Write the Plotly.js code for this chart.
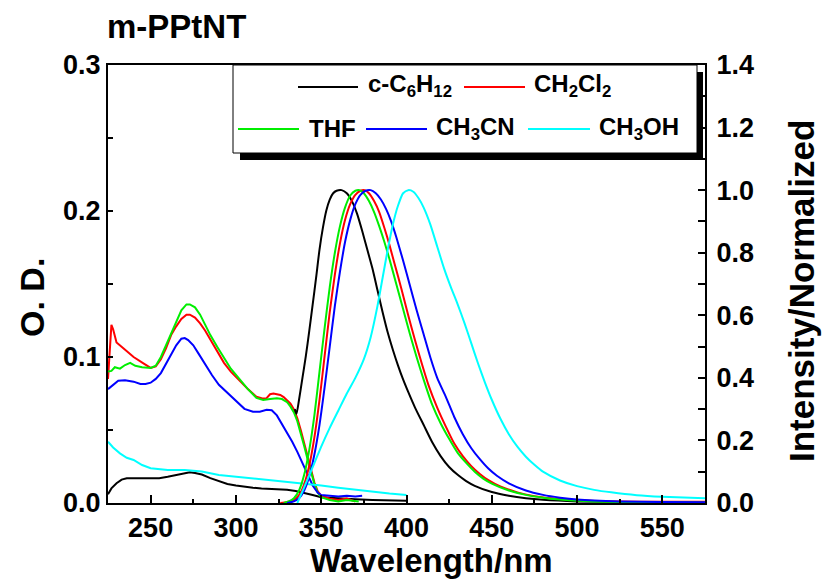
<!DOCTYPE html>
<html>
<head>
<meta charset="utf-8">
<script src="https://cdn.plot.ly/plotly-3.0.1.min.js"></script>
<style>html,body{margin:0;padding:0;background:#fff;}#chart{width:823px;height:585px;}</style>
</head>
<body>
<div id="chart"></div>
<script>
// ---------- DATA ----------
const solventNames = ["c-C<sub>6</sub>H<sub>12</sub>", "CH<sub>2</sub>Cl<sub>2</sub>", "THF", "CH<sub>3</sub>CN", "CH<sub>3</sub>OH"];

// Absorption (left axis, O. D.)
const absWl_C6H12 = [225,227,230,233,236,240,245,250,255,260,265,270,273,276,280,285,290,295,300,305,310,315,320,325,330,335,340,345,350,360,370,380,390,400];
const absOD_C6H12 = [0.006,0.010,0.0135,0.016,0.017,0.017,0.017,0.017,0.017,0.018,0.019,0.0205,0.021,0.0205,0.0195,0.017,0.015,0.013,0.012,0.011,0.0105,0.010,0.0098,0.0095,0.009,0.0082,0.007,0.0055,0.004,0.003,0.0025,0.002,0.0018,0.0015];

const absWl_CH2Cl2 = [225,226,227,228,230,234,240,246,250,253,256,259,262,265,268,271,273,276,279,282,285,289,293,297,302,307,312,316,318,320,322,324,326,328,330,332,334,336,338,340,342,344,346,348,350,355,360,365,370];
const absOD_CH2Cl2 = [0.085,0.105,0.122,0.119,0.110,0.106,0.100,0.0955,0.0925,0.0935,0.0985,0.106,0.115,0.121,0.126,0.129,0.129,0.127,0.123,0.118,0.112,0.104,0.096,0.090,0.084,0.078,0.0728,0.0715,0.0718,0.0745,0.075,0.0745,0.074,0.0725,0.0705,0.068,0.064,0.058,0.050,0.041,0.032,0.023,0.014,0.008,0.005,0.003,0.002,0.003,0.001];

const absWl_THF = [225,227,229,232,235,238,241,245,250,253,256,259,262,265,268,271,273,276,279,282,285,289,293,297,302,307,312,316,320,324,327,330,332,334,336,338,340,342,344,346,348,350,355,360,365,372];
const absOD_THF = [0.090,0.0905,0.093,0.092,0.0945,0.096,0.094,0.093,0.0925,0.094,0.100,0.108,0.117,0.125,0.132,0.136,0.136,0.134,0.129,0.122,0.115,0.107,0.099,0.092,0.085,0.078,0.072,0.0705,0.0712,0.0717,0.0712,0.069,0.066,0.062,0.056,0.048,0.039,0.030,0.021,0.013,0.007,0.004,0.002,0.001,0.002,0.001];

const absWl_CH3CN = [225,228,231,235,240,244,247,250,253,256,259,262,265,268,270,272,275,278,282,286,290,295,300,305,310,314,318,321,324,327,330,333,336,339,342,345,348,350,355,360,365,370,374];
const absOD_CH3CN = [0.078,0.081,0.0838,0.084,0.0831,0.0815,0.0815,0.0824,0.085,0.089,0.095,0.102,0.108,0.1125,0.113,0.1116,0.108,0.1025,0.095,0.0875,0.081,0.0755,0.070,0.0645,0.0625,0.0625,0.0638,0.0635,0.060,0.054,0.049,0.042,0.035,0.027,0.019,0.012,0.007,0.0055,0.005,0.0045,0.005,0.0045,0.005];

const absWl_CH3OH = [225,228,232,236,240,245,250,255,260,270,280,290,300,310,320,330,340,350,360,370,380,390,400];
const absOD_CH3OH = [0.042,0.038,0.034,0.031,0.0295,0.026,0.0238,0.023,0.0226,0.0226,0.0215,0.0192,0.018,0.0168,0.0155,0.0145,0.0135,0.012,0.0105,0.009,0.0075,0.0065,0.0055];

// Emission (right axis, normalized intensity)
const emWl_C6H12 = [334.5,335.5,337,339,341,343,345,347,349,351,353,355,357,359,362,365,368,371,374,377,380,383,386,389,392,395,398,401,405,410,415,420,425,430,435,440,450,460,470,480,500,525,550,575];
const emI_C6H12  = [0.30,0.285,0.33,0.40,0.47,0.55,0.635,0.72,0.81,0.88,0.935,0.97,0.99,0.998,1.0,0.99,0.965,0.925,0.87,0.81,0.75,0.68,0.61,0.545,0.49,0.44,0.395,0.355,0.305,0.25,0.195,0.15,0.115,0.09,0.07,0.055,0.035,0.023,0.015,0.01,0.005,0.003,0.002,0.002];

const emWl_CH2Cl2 = [326,330,334,337,340,343,346,349,352,355,358,361,364,367,370,373,375.5,378,381,384,387,390,393,397,401,405,409,413,418,423,428,433,438,443,448,455,465,475,485,500,525,550,575];
const emI_CH2Cl2  = [0.0,0.003,0.01,0.025,0.06,0.12,0.21,0.33,0.47,0.61,0.73,0.83,0.905,0.955,0.985,0.998,1.0,0.99,0.965,0.93,0.88,0.825,0.765,0.685,0.60,0.52,0.445,0.375,0.305,0.245,0.19,0.15,0.118,0.093,0.073,0.053,0.034,0.022,0.015,0.009,0.005,0.004,0.004];

const emWl_THF = [328,331,334,337,340,343,346,349,352,355,358,361,364,367,370,372.5,375,378,381,384,387,390,394,398,402,406,410,415,420,425,430,435,440,445,450,460,470,480,490,500,525,550,575];
const emI_THF  = [0.0,0.005,0.015,0.04,0.09,0.17,0.28,0.42,0.56,0.69,0.80,0.885,0.945,0.983,0.998,1.0,0.99,0.965,0.93,0.885,0.835,0.78,0.70,0.62,0.54,0.465,0.395,0.315,0.255,0.205,0.16,0.128,0.10,0.078,0.062,0.04,0.026,0.017,0.011,0.007,0.003,0.002,0.001];

const emWl_CH3CN = [330,334,337,340,343,346,349,352,355,358,361,364,367,370,373,376,379,382,385,388,391,394,398,402,406,410,414,418,423,428,433,438,443,448,453,460,470,480,490,500,525,550,575];
const emI_CH3CN  = [0.0,0.005,0.015,0.04,0.085,0.155,0.25,0.37,0.50,0.63,0.74,0.835,0.905,0.955,0.985,0.998,1.0,0.99,0.97,0.94,0.90,0.85,0.775,0.695,0.615,0.54,0.465,0.40,0.34,0.275,0.22,0.175,0.14,0.11,0.087,0.063,0.04,0.026,0.017,0.011,0.005,0.003,0.002];

const emWl_CH3OH = [336,340,345,350,355,360,365,370,375,379,383,386,389,392,395,398,401,404,407,410,414,418,422,426,430,434,438,442,446,450,455,460,465,470,475,480,490,500,510,520,535,550,575];
const emI_CH3OH  = [0.0,0.05,0.115,0.18,0.24,0.295,0.35,0.40,0.46,0.53,0.63,0.72,0.81,0.89,0.95,0.99,1.0,0.995,0.975,0.945,0.89,0.82,0.75,0.69,0.635,0.575,0.51,0.445,0.385,0.33,0.27,0.22,0.18,0.148,0.122,0.10,0.072,0.054,0.042,0.034,0.025,0.02,0.015];

const seriesColors = ["#000000", "#ff0000", "#00ee00", "#0000ff", "#00ffff"];

// ---------- CHART ----------
const absWl = [absWl_C6H12, absWl_CH2Cl2, absWl_THF, absWl_CH3CN, absWl_CH3OH];
const absOD = [absOD_C6H12, absOD_CH2Cl2, absOD_THF, absOD_CH3CN, absOD_CH3OH];
const emWl = [emWl_C6H12, emWl_CH2Cl2, emWl_THF, emWl_CH3CN, emWl_CH3OH];
const emI  = [emI_C6H12, emI_CH2Cl2, emI_THF, emI_CH3CN, emI_CH3OH];

const traces = [];
for (let i = 0; i < 5; i++) {
  traces.push({x: absWl[i], y: absOD[i], type: 'scatter', mode: 'lines', yaxis: 'y',
    line: {color: seriesColors[i], width: 2}, showlegend: false, hoverinfo: 'skip'});
  traces.push({x: emWl[i], y: emI[i], type: 'scatter', mode: 'lines', yaxis: 'y2',
    line: {color: seriesColors[i], width: 2, shape: 'spline', smoothing: 0.6}, showlegend: false, hoverinfo: 'skip'});
}

// plot area pixel frame
const L = 108, R = 705, T = 65, B = 503;
const PX = p => (p - L) / (R - L);
const PY = p => (B - p) / (B - T);

const FONT = 'Liberation Sans, Arial, Helvetica, sans-serif';
const tickFont = {family: FONT, size: 27, color: '#000', weight: 'bold'};

const shapes = [
  // legend shadow
  {type: 'rect', xref: 'paper', yref: 'paper', x0: PX(240), x1: PX(703), y0: PY(160), y1: PY(72),
   fillcolor: '#000', line: {width: 0}, layer: 'above'},
  // legend box
  {type: 'rect', xref: 'paper', yref: 'paper', x0: PX(233), x1: PX(697), y0: PY(153), y1: PY(65),
   fillcolor: '#fff', line: {color: '#000', width: 1}, layer: 'above'}
];
const legendItems = [
  {x0: 298, x1: 358, y: 87, tx: 366},
  {x0: 464, x1: 525, y: 87, tx: 532},
  {x0: 238, x1: 299, y: 129, tx: 307},
  {x0: 366, x1: 427, y: 129, tx: 434},
  {x0: 528, x1: 590, y: 129, tx: 597}
];
const annotations = [];
legendItems.forEach((it, i) => {
  shapes.push({type: 'line', xref: 'paper', yref: 'paper', x0: PX(it.x0), x1: PX(it.x1), y0: PY(it.y), y1: PY(it.y),
    line: {color: seriesColors[i], width: 2}, layer: 'above'});
  annotations.push({xref: 'paper', yref: 'paper', x: PX(it.tx), y: PY(it.y - 1), xanchor: 'left', yanchor: 'middle',
    text: solventNames[i], showarrow: false, font: {family: FONT, size: 24, color: '#000', weight: 'bold'}});
});
annotations.push({xref: 'paper', yref: 'paper', x: PX(105), y: PY(27), xanchor: 'left', yanchor: 'middle',
  text: 'm-PPtNT', showarrow: false, font: {family: FONT, size: 33, color: '#000', weight: 'bold'}});
annotations.push({xref: 'paper', yref: 'paper', x: PX(431), y: PY(560), xanchor: 'center', yanchor: 'middle',
  text: 'Wavelength/nm', showarrow: false, font: {family: FONT, size: 33, color: '#000', weight: 'bold'}});
annotations.push({xref: 'paper', yref: 'paper', x: PX(32), y: PY(298), xanchor: 'center', yanchor: 'middle',
  text: 'O. D.', textangle: -90, showarrow: false, font: {family: FONT, size: 34, color: '#000', weight: 'bold'}});
annotations.push({xref: 'paper', yref: 'paper', x: PX(801), y: PY(291), xanchor: 'center', yanchor: 'middle',
  text: 'Intensity/Normalized', textangle: -90, showarrow: false, font: {family: FONT, size: 35, color: '#000', weight: 'bold'}});

const layout = {
  width: 823, height: 585,
  margin: {l: L, r: 823 - R, t: T, b: 585 - B, pad: 0},
  paper_bgcolor: '#fff', plot_bgcolor: '#fff',
  showlegend: false,
  xaxis: {range: [225, 575], tick0: 0, dtick: 50, showline: true, linecolor: '#000', linewidth: 2, mirror: true,
    ticks: 'inside', ticklen: 8, tickwidth: 2, tickcolor: '#000', tickfont: tickFont,
    showgrid: false, zeroline: false,
    minor: {dtick: 25, ticks: 'inside', ticklen: 4, tickwidth: 2, tickcolor: '#000', showgrid: false}},
  yaxis: {range: [0, 0.3], tick0: 0, dtick: 0.1, tickformat: '.1f', showline: true, linecolor: '#000', linewidth: 2,
    ticks: 'inside', ticklen: 5, tickwidth: 2, tickcolor: '#000', tickfont: tickFont, showgrid: false, zeroline: false,
    minor: {dtick: 0.05, ticks: 'inside', ticklen: 5, tickwidth: 2, tickcolor: '#000', showgrid: false}},
  yaxis2: {range: [0, 1.4], tick0: 0, dtick: 0.2, tickformat: '.1f', overlaying: 'y', side: 'right',
    showline: true, linecolor: '#000', linewidth: 2, ticklabelstandoff: 4,
    ticks: 'inside', ticklen: 7, tickwidth: 2, tickcolor: '#000', tickfont: tickFont, showgrid: false, zeroline: false,
    minor: {dtick: 0.1, ticks: 'inside', ticklen: 7, tickwidth: 2, tickcolor: '#000', showgrid: false}},
  shapes: shapes,
  annotations: annotations
};

Plotly.newPlot('chart', traces, layout, {displayModeBar: false, staticPlot: true});
</script>
</body>
</html>
